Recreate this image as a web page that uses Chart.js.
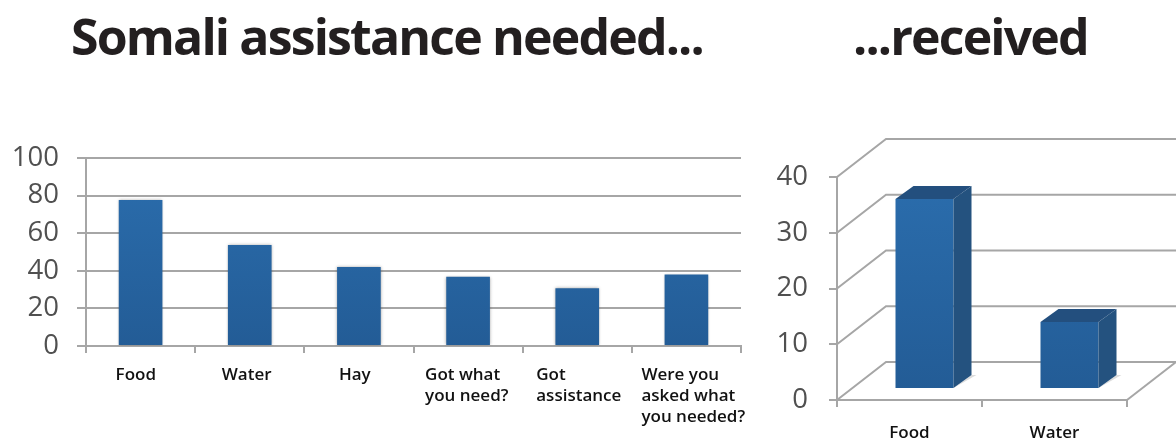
<!DOCTYPE html>
<html>
<head>
<meta charset="utf-8">
<title>Somali assistance</title>
<script src="https://cdn.jsdelivr.net/npm/chart.js@4"></script>
<style>
html, body { margin: 0; padding: 0; background: #fff; overflow: hidden; }
#page { position: relative; width: 1176px; height: 441px; }
canvas { position: absolute; top: 0; }
#chartNeeded { left: 0; }
#chartReceived { left: 770px; }
.head { position: absolute; top: -1px; font: 700 50px "Open Sans", sans-serif; letter-spacing: -1.85px; color: #231f20; white-space: nowrap; line-height: 74px; }
</style>
</head>
<body>
<div id="page">
  <div class="head" style="left:71px">Somali assistance needed...</div>
  <div class="head" style="left:853px">...received</div>
  <canvas id="chartNeeded" width="770" height="441"></canvas>
  <canvas id="chartReceived" width="406" height="441"></canvas>
</div>
<script>
"use strict";
var neededLabels = [['Food'], ['Water'], ['Hay'], ['Got what', 'you need?'], ['Got', 'assistance'], ['Were you', 'asked what', 'you needed?']];
var neededValues = [77.6, 53.7, 42, 36.9, 30.7, 38];
var receivedLabels = ['Food', 'Water'];
var receivedValues = [34.1, 12];

var gridColor = '#a6a6a6';
var tickColor = '#505050';
var font = '"Open Sans", sans-serif';
// where each label starts, relative to the middle of its category
var labelShift = [-25, -28, -20, -43, -41, -45];
// 3d look of the right chart
var wallDepth = { x: 49, y: -38 };
var barDepth = { x: 18, y: -13 };
var barShift = { x: 15, y: -11 };

function barGradient(context) {
    var area = context.chart.chartArea;
    if (!area) return '#2a6cab';
    var g = context.chart.ctx.createLinearGradient(0, area.top, 0, area.bottom);
    g.addColorStop(0, '#2b6eae');
    g.addColorStop(1, '#235c96');
    return g;
}

function fixedSize(prop, size) {
    return function(scale) { scale[prop] = size; };
}

var flatLabels = {
    id: 'flatLabels',
    beforeDatasetsDraw: function(chart) {
        var ctx = chart.ctx;
        ctx.save();
        ctx.shadowColor = 'rgba(60,60,60,0.45)';
        ctx.shadowBlur = 3;
    },
    afterDatasetsDraw: function(chart) {
        chart.ctx.restore();
    },
    afterDraw: function(chart) {
        var ctx = chart.ctx;
        var x = chart.scales.x;
        ctx.save();
        ctx.font = '600 17px ' + font;
        ctx.fillStyle = '#111';
        ctx.textAlign = 'left';
        ctx.textBaseline = 'middle';
        neededLabels.forEach(function(lines, i) {
            lines.forEach(function(line, n) {
                ctx.fillText(line, x.getPixelForTick(i) + labelShift[i], x.top + 29 + n * 21);
            });
        });
        ctx.restore();
    }
};

var walls3d = {
    id: 'walls3d',
    beforeDatasetsDraw: function(chart) {
        var ctx = chart.ctx;
        var x = chart.scales.x;
        var y = chart.scales.y;
        ctx.save();
        ctx.strokeStyle = gridColor;
        ctx.lineWidth = 2;
        y.ticks.forEach(function(t) {
            var py = y.getPixelForValue(t.value);
            ctx.beginPath();
            ctx.moveTo(x.left, py);
            ctx.lineTo(x.left + wallDepth.x, py + wallDepth.y);
            ctx.lineTo(x.right + wallDepth.x, py + wallDepth.y);
            ctx.stroke();
        });
        var base = y.getPixelForValue(0);
        ctx.beginPath();
        ctx.moveTo(x.right, base);
        ctx.lineTo(x.right + wallDepth.x, base + wallDepth.y);
        ctx.stroke();
        // shadows on the floor
        ctx.fillStyle = '#dcdcdc';
        chart.getDatasetMeta(0).data.forEach(function(bar) {
            var r = bar.x + bar.width / 2 + barShift.x;
            var b = bar.base + barShift.y;
            ctx.beginPath();
            ctx.moveTo(r, b);
            ctx.lineTo(r + barDepth.x + 5, b + barDepth.y);
            ctx.lineTo(r + barDepth.x, b + barDepth.y);
            ctx.closePath();
            ctx.fill();
        });
        ctx.restore();
        ctx.save();
        ctx.translate(barShift.x, barShift.y);
    },
    afterDatasetsDraw: function(chart) {
        var ctx = chart.ctx;
        chart.getDatasetMeta(0).data.forEach(function(bar) {
            var l = bar.x - bar.width / 2;
            var r = bar.x + bar.width / 2;
            ctx.fillStyle = '#24527f';
            ctx.beginPath();
            ctx.moveTo(r, bar.y);
            ctx.lineTo(r + barDepth.x, bar.y + barDepth.y);
            ctx.lineTo(r + barDepth.x, bar.base + barDepth.y);
            ctx.lineTo(r, bar.base);
            ctx.closePath();
            ctx.fill();
            ctx.fillStyle = '#234f7e';
            ctx.beginPath();
            ctx.moveTo(l, bar.y);
            ctx.lineTo(l + barDepth.x, bar.y + barDepth.y);
            ctx.lineTo(r + barDepth.x, bar.y + barDepth.y);
            ctx.lineTo(r, bar.y);
            ctx.closePath();
            ctx.fill();
        });
        ctx.restore();
    }
};

new Chart(document.getElementById('chartNeeded'), {
    type: 'bar',
    data: {
        labels: neededLabels,
        datasets: [{ data: neededValues, backgroundColor: barGradient, barPercentage: 0.4, categoryPercentage: 1 }]
    },
    options: {
        responsive: false,
        animation: false,
        layout: { padding: { top: 158, right: 29, left: 0, bottom: 0 } },
        plugins: { legend: { display: false }, tooltip: { enabled: false } },
        scales: {
            x: {
                afterFit: fixedSize('height', 95),
                grid: { drawOnChartArea: false, color: gridColor, lineWidth: 2, tickLength: 7 },
                border: { color: gridColor, width: 2 },
                ticks: { display: false }
            },
            y: {
                min: 0,
                max: 100,
                afterFit: fixedSize('width', 86),
                grid: { color: gridColor, lineWidth: 2, tickLength: 9 },
                border: { color: gridColor, width: 2 },
                ticks: { stepSize: 20, color: tickColor, padding: 18, font: { family: font, size: 27.5 } }
            }
        }
    },
    plugins: [flatLabels]
});

new Chart(document.getElementById('chartReceived'), {
    type: 'bar',
    data: {
        labels: receivedLabels,
        datasets: [{ data: receivedValues, backgroundColor: barGradient, barPercentage: 0.4, categoryPercentage: 1 }]
    },
    options: {
        responsive: false,
        animation: false,
        layout: { padding: { top: 177, right: 49, left: 0, bottom: 0 } },
        plugins: { legend: { display: false }, tooltip: { enabled: false } },
        scales: {
            x: {
                afterFit: fixedSize('height', 41),
                grid: { drawOnChartArea: false, color: gridColor, lineWidth: 2, tickLength: 7 },
                border: { color: gridColor, width: 2 },
                ticks: { color: '#111', padding: 16, font: { family: font, size: 17, weight: '600' } }
            },
            y: {
                min: 0,
                max: 40,
                afterFit: fixedSize('width', 67),
                grid: { drawOnChartArea: false, color: gridColor, lineWidth: 2, tickLength: 8 },
                border: { color: gridColor, width: 2 },
                ticks: { stepSize: 10, color: tickColor, padding: 21, font: { family: font, size: 27.5 } }
            }
        }
    },
    plugins: [walls3d]
});
</script>
</body>
</html>
